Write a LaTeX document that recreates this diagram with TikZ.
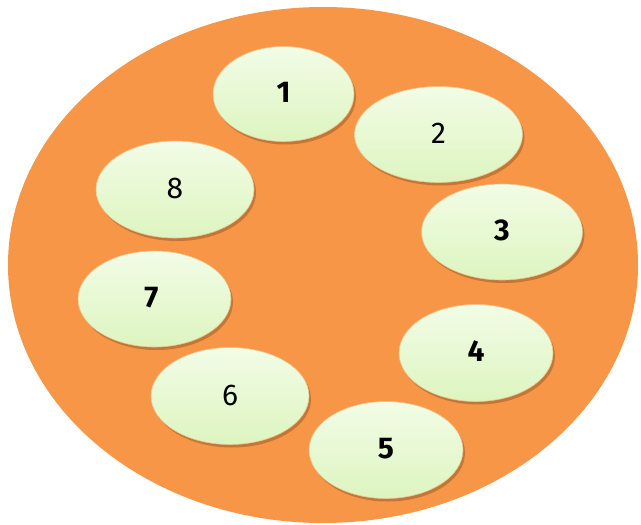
\documentclass[tikz,border=0pt]{standalone}
\usepackage{fontspec}
\setmainfont{Fira Sans}
\usetikzlibrary{shapes.geometric,shadows}
\definecolor{plate}{HTML}{F79646}
\definecolor{ovtop}{HTML}{F2FCE6}
\definecolor{ovbot}{HTML}{DDF5C0}
\definecolor{ovedge}{HTML}{E9C48E}
\tikzset{
  oval/.style={ellipse, inner sep=0pt, top color=ovtop, bottom color=ovbot,
    draw=ovedge, line width=0.6pt,
    drop shadow={opacity=0.35, shadow xshift=2pt, shadow yshift=-3pt, fill=black!60!plate},
    font=\fontsize{30}{30}\selectfont},
  bnum/.style={font=\fontsize{30}{30}\selectfont\bfseries},
}
\begin{document}
\begin{tikzpicture}[x=1pt,y=-1pt]
\useasboundingbox (0,0) rectangle (641,525);
\fill[plate] (323,265) ellipse [x radius=315, y radius=258];
\node[oval, minimum width=141, minimum height=95, bnum] (n1) at (283.5,94) {\raisebox{3pt}{1}};
\node[oval, minimum width=168, minimum height=96] (n2) at (438.5,134.5) {\raisebox{2pt}{2}};
\node[oval, minimum width=161, minimum height=96, bnum] (n3) at (502,232) {\raisebox{3pt}{3}};
\node[oval, minimum width=154, minimum height=97, bnum] (n4) at (476,353) {\raisebox{3pt}{4}};
\node[oval, minimum width=154, minimum height=97, bnum] (n5) at (386,450) {\raisebox{3pt}{5}};
\node[oval, minimum width=158, minimum height=97] (n6) at (230,396) {\raisebox{2pt}{6}};
\node[oval, minimum width=153, minimum height=96, bnum] (n7) at (154.5,299) {\hspace*{-6pt}\raisebox{3pt}{7}};
\node[oval, minimum width=158, minimum height=97] (n8) at (175,189.5) {\raisebox{2pt}{8}};
\end{tikzpicture}
\end{document}
